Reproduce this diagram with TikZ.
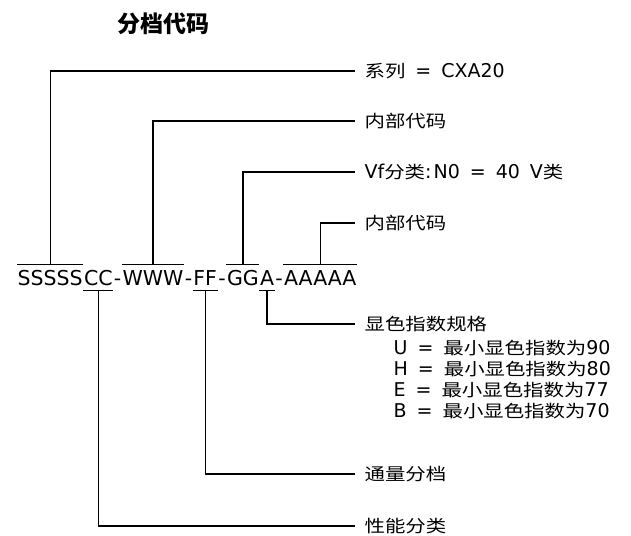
\documentclass[tikz,border=0pt]{standalone}
\usepackage{fontspec}
\setmainfont{DejaVu Sans}
\newfontfamily\cjk[Scale=0.895,FakeStretch=1.2]{Noto Sans CJK SC}
\newfontfamily\cjktitle{Noto Sans CJK SC}
\newcommand\eqgap{\hspace{10pt}=\hspace{10pt}}
\newcommand\wgap{\hspace{10pt}}
\begin{document}
\begin{tikzpicture}[x=1pt,y=-1pt,line width=1.3pt,
  code/.style={inner sep=0pt, anchor=base west, font=\fontsize{20.5}{20.5}\selectfont, text height=20pt, text depth=5pt},
  lab/.style={anchor=west, inner xsep=9pt, inner ysep=0pt, font=\fontsize{19}{19}\selectfont},
  spec/.style={anchor=west, inner sep=0pt, font=\fontsize{19}{19}\selectfont},
  title/.style={inner sep=0pt, font=\fontsize{23}{23}\selectfont}]
\useasboundingbox (0,0) rectangle (631,535);
\node[title] (t) at (163,24) {\cjktitle\bfseries 分档代码};
% code string
\node[code] (s) at (17,285) {SSSSS};
\node[code] (c) at (s.base east) {CC};
\node[code] (d1) at (c.base east) {-};
\node[code] (w) at (d1.base east) {WWW};
\node[code] (d2) at (w.base east) {-};
\node[code] (f) at (d2.base east) {FF};
\node[code] (d3) at (f.base east) {-};
\node[code] (g) at (d3.base east) {GG};
\node[code] (a) at (g.base east) {A};
\node[code] (d4) at (a.base east) {-};
\node[code] (aa) at (d4.base east) {AAAAA};
% bars
\draw (s.north west) -- (s.north east);
\draw (w.north west) -- (w.north east);
\draw (g.north west) -- (g.north east);
\draw (aa.north west) -- (aa.north east);
\draw (c.south west) -- (c.south east);
\draw (f.south west) -- (f.south east);
\draw (a.south west) -- (a.south east);
% labels
\node[lab] (l1) at (355,71) {{\cjk 系列}\eqgap CXA20};
\node[lab] (l2) at (355,121) {\cjk 内部代码};
\node[lab] (l3) at (355,172) {Vf{\cjk 分类}:\hspace{2pt}N0\eqgap 40\wgap V{\cjk 类}};
\node[lab] (l4) at (355,223) {\cjk 内部代码};
\node[lab] (l5) at (355,324) {\cjk 显色指数规格};
\node[spec] (u) at (393,348) {U\eqgap{\cjk 最小显色指数为}90};
\node[spec] (h) at (393,369) {H\eqgap{\cjk 最小显色指数为}80};
\node[spec] (e) at (393,390) {E\eqgap{\cjk 最小显色指数为}77};
\node[spec] (b) at (393,411) {B\eqgap{\cjk 最小显色指数为}70};
\node[lab] (l6) at (355,474) {\cjk 通量分档};
\node[lab] (l7) at (355,526) {\cjk 性能分类};
% connectors
\draw (s.north) |- (l1.west);
\draw (w.north) |- (l2.west);
\draw (g.north) |- (l3.west);
\draw (aa.north) |- (l4.west);
\draw (a.south) |- (l5.west);
\draw (f.south) |- (l6.west);
\draw (c.south) |- (l7.west);
\end{tikzpicture}
\end{document}
